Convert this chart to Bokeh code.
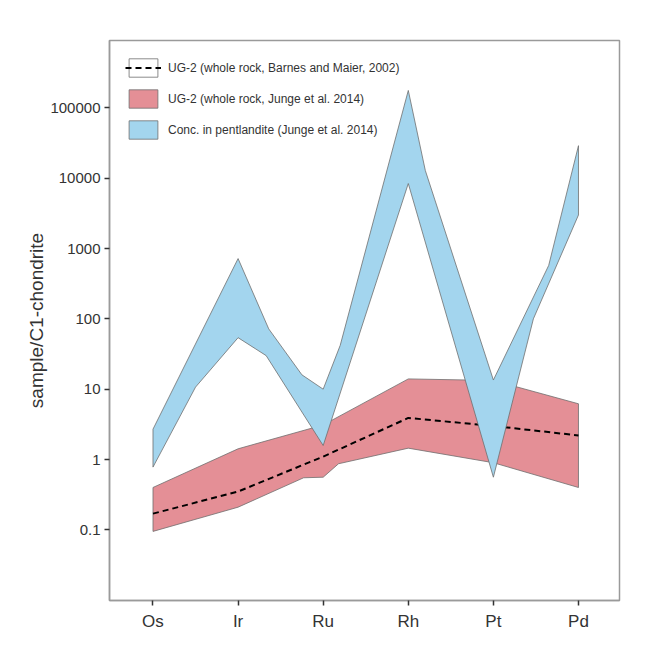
from bokeh.plotting import figure
from bokeh.models import Range1d, FixedTicker, Legend, LegendItem
from bokeh.embed import file_html
from bokeh.resources import INLINE

elements = ["Os", "Ir", "Ru", "Rh", "Pt", "Pd"]
y_ticks = [0.1, 1, 10, 100, 1000, 10000, 100000]
y_tick_labels = ["0.1", "1", "10", "100", "1000", "10000", "100000"]

# Conc. in pentlandite (Junge et al. 2014): upper and lower envelope
pn_upper_x = [0, 1, 1.36, 1.75, 2, 2.2, 3, 3.2, 4, 4.65, 5]
pn_upper_y = [2.7, 720, 72, 16, 10, 42, 177000, 12900, 13.5, 575, 29000]
pn_lower_x = [0, 0.5, 1, 1.33, 2, 3, 4, 4.47, 5]
pn_lower_y = [0.78, 10.7, 54, 30, 1.58, 8400, 0.56, 100, 3000]

# UG-2 whole rock (Junge et al. 2014): upper and lower envelope
wr_upper_x = [0, 1, 2, 3, 4, 5]
wr_upper_y = [0.40, 1.42, 3.1, 14, 13.3, 6.2]
wr_lower_x = [0, 1, 1.77, 2, 2.18, 3, 4, 5]
wr_lower_y = [0.095, 0.21, 0.55, 0.56, 0.87, 1.45, 0.9, 0.40]

# UG-2 whole rock (Barnes and Maier, 2002)
bm_x = [0, 1, 2, 3, 4, 5]
bm_y = [0.17, 0.35, 1.1, 3.9, 3.0, 2.2]

FONT = "Liberation Sans"
TXT = "#333333"
FRAME = "#9a9a9a"
BLUE = "#a3d5ee"
PINK = "#e48f96"
EDGE = "#6e6e6e"

p = figure(width=645, height=666, output_backend="svg", toolbar_location=None,
           y_axis_type="log",
           x_range=Range1d(-0.511, 5.482), y_range=Range1d(0.00989, 908000),
           min_border_left=109, min_border_right=26, min_border_top=40,
           min_border_bottom=66)
p.grid.visible = False
p.outline_line_color = FRAME
p.outline_line_width = 1.5
p.background_fill_color = "white"
p.border_fill_color = "white"
# thin page border around the whole figure (CSS outline, does not affect layout)
p.styles = {"outline": "1.5px solid #b0b0b0", "outline-offset": "-5px"}

wr_x = wr_upper_x + wr_lower_x[::-1]
wr_y = wr_upper_y + wr_lower_y[::-1]
pink = p.patch(wr_x, wr_y, fill_color=PINK, line_color=EDGE, line_width=0.8)

bm = p.line(bm_x, bm_y, line_color="black", line_width=2, line_dash="6 4")

pn_x = pn_upper_x + pn_lower_x[::-1]
pn_y = pn_upper_y + pn_lower_y[::-1]
blue = p.patch(pn_x, pn_y, fill_color=BLUE, line_color=EDGE, line_width=0.8)

# legend-only swatch frame for the dashed-line entry (no drawable data)
nan = float("nan")
box = p.patch([nan], [nan], fill_color="white", line_color=EDGE, line_width=0.8)

legend = Legend(items=[
    LegendItem(label="UG-2 (whole rock, Barnes and Maier, 2002)", renderers=[box, bm]),
    LegendItem(label="UG-2 (whole rock, Junge et al. 2014)", renderers=[pink]),
    LegendItem(label="Conc. in pentlandite (Junge et al. 2014)", renderers=[blue]),
], location="top_left")
legend.margin = 5
legend.padding = 11
legend.spacing = 8
legend.glyph_width = 36
legend.glyph_height = 23
legend.label_height = 23
legend.label_standoff = 7
legend.label_text_font = FONT
legend.label_text_font_size = "12px"
legend.label_text_color = TXT
legend.background_fill_alpha = 0
legend.border_line_alpha = 0
p.add_layout(legend)

xa = p.xaxis[0]
xa.ticker = FixedTicker(ticks=list(range(len(elements))))
xa.major_label_overrides = {i: e for i, e in enumerate(elements)}
ya = p.yaxis[0]
ya.ticker = FixedTicker(ticks=y_ticks)
ya.major_label_overrides = {t: l for t, l in zip(y_ticks, y_tick_labels)}
ya.axis_label = "sample/C1-chondrite"
ya.axis_label_text_font = FONT
ya.axis_label_text_font_size = "19px"
ya.axis_label_text_font_style = "normal"
ya.axis_label_text_color = TXT
ya.axis_label_standoff = 0

for ax, fs in ((xa, "17px"), (ya, "15px")):
    ax.axis_line_color = FRAME
    ax.axis_line_width = 1.5
    ax.major_tick_line_color = TXT
    ax.major_tick_line_width = 1.5
    ax.major_tick_out = 5
    ax.major_tick_in = 0
    ax.minor_tick_line_color = None
    ax.major_label_text_font = FONT
    ax.major_label_text_font_size = fs
    ax.major_label_text_color = TXT
xa.major_label_standoff = 6
ya.major_label_standoff = 4

open("out.html", "w").write(file_html(p, INLINE))
